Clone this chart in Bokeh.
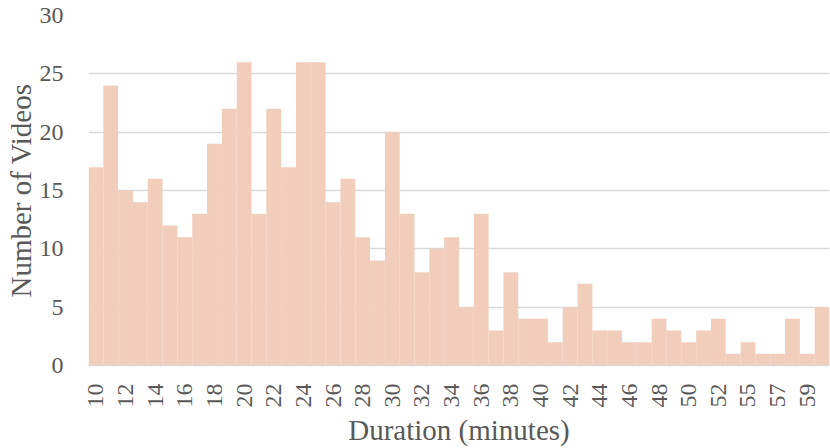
import math
from bokeh.plotting import figure
from bokeh.models import ColumnDataSource, Range1d, FixedTicker
from bokeh.embed import file_html
from bokeh.resources import INLINE

durations = [str(d) for d in list(range(10, 54)) + [55, 56, 57, 58, 59, 60]]
counts = [17, 24, 15, 14, 16, 12, 11, 13, 19, 22,
          26, 13, 22, 17, 26, 26, 14, 16, 11, 9,
          20, 13, 8, 10, 11, 5, 13, 3, 8, 4,
          4, 2, 5, 7, 3, 3, 2, 2, 4, 3,
          2, 3, 4, 1, 2, 1, 1, 4, 1, 5]
shown_labels = [str(d) for d in list(range(10, 53, 2)) + [55, 57, 59]]
y_ticks = [0, 5, 10, 15, 20, 25, 30]

FONT = "Liberation Serif"
TEXT = "#595959"
GRID = "#D9D9D9"

idx = list(range(len(durations)))
src = ColumnDataSource(dict(x=idx, y=counts))

p = figure(x_range=Range1d(-0.5, len(durations) - 0.5), y_range=Range1d(0, 30),
           width=830, height=448,
           output_backend="svg", toolbar_location=None,
           min_border_left=88, min_border_right=1, min_border_top=15, min_border_bottom=83)
p.outline_line_color = None
p.background_fill_color = "white"
p.border_fill_color = "white"

p.vbar(x="x", top="y", width=1.0, source=src, fill_color="#F0CEBB", line_color=None)

p.xgrid.grid_line_color = None
p.ygrid.grid_line_color = GRID
p.ygrid.grid_line_width = 1.5
p.yaxis.ticker = FixedTicker(ticks=y_ticks)

tick_idx = [i for i, d in enumerate(durations) if d in shown_labels]
p.xaxis.ticker = FixedTicker(ticks=tick_idx)
p.xaxis.major_label_overrides = {i: durations[i] for i in tick_idx}
p.xaxis.major_label_orientation = math.pi / 2
p.xaxis.axis_label = "Duration (minutes)"
p.yaxis.axis_label = "Number of Videos"

for ax in (p.xaxis[0], p.yaxis[0]):
    ax.major_tick_line_color = None
    ax.minor_tick_line_color = None
    ax.major_label_text_font = FONT
    ax.major_label_text_color = TEXT
    ax.major_label_text_font_size = "24px"
    ax.axis_label_text_font = FONT
    ax.axis_label_text_color = TEXT
    ax.axis_label_text_font_size = "29px"
    ax.axis_label_text_font_style = "normal"

p.xaxis.axis_line_color = GRID
p.xaxis.axis_line_width = 1.5
p.yaxis.axis_line_color = None
p.xaxis.major_label_standoff = 12
p.xaxis.axis_label_standoff = 3
p.yaxis.major_label_standoff = 19
p.yaxis.axis_label_standoff = 0

open("out.html", "w").write(file_html(p, INLINE))
